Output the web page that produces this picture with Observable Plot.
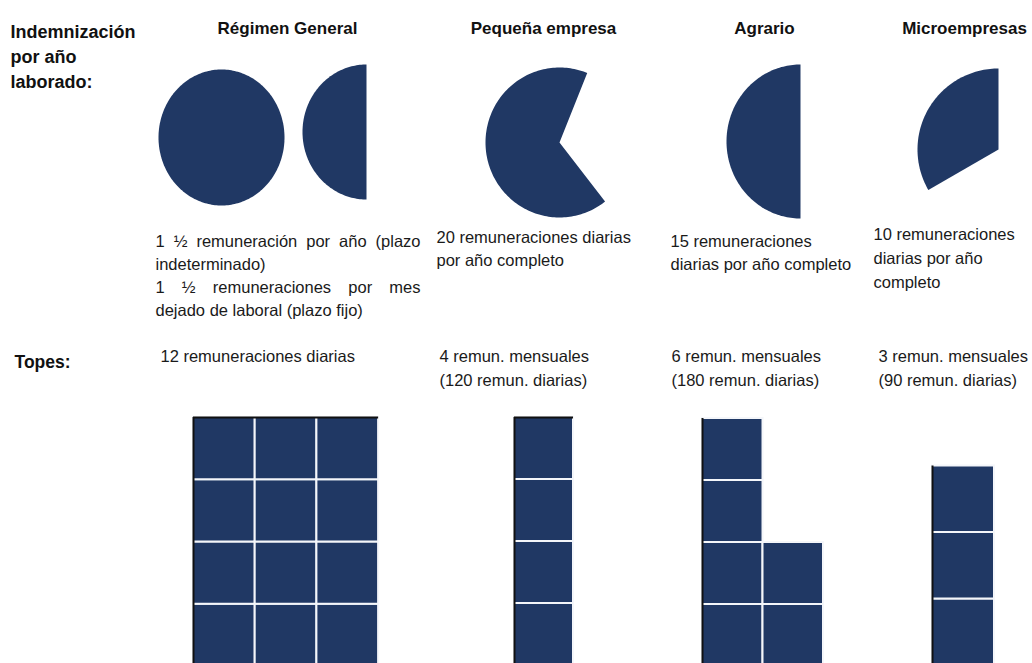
<!DOCTYPE html>
<html><head><meta charset="utf-8">
<script src="https://cdn.jsdelivr.net/npm/d3@7"></script>
<script src="https://cdn.jsdelivr.net/npm/@observablehq/plot@0.6"></script>
<style>
html,body{margin:0;padding:0;background:#fff;}
#chart svg{display:block;}
</style></head><body><div id="chart"></div>
<script>
// ---------------- DATA ----------------
const categories = ["Régimen General", "Pequeña empresa", "Agrario", "Microempresas"];
const diasPorAnio = [45, 20, 15, 10];          // remuneraciones diarias por año laborado
const diasPorRemuneracion = 30;                 // one full pie = one monthly remuneration
const topesMensuales = [12, 4, 6, 3];           // caps, in monthly remunerations (one square each)
const rowLabels = ["Indemnización", "por año", "laborado:"];
const topesLabel = "Topes:";
const descripciones = [
  ["1 ½ remuneración por año (plazo", "indeterminado)", "1 ½ remuneraciones por mes", "dejado de laboral (plazo fijo)"],
  ["20 remuneraciones diarias", "por año completo"],
  ["15 remuneraciones", "diarias por año completo"],
  ["10 remuneraciones", "diarias por año", "completo"]
];
const topesTexto = [
  ["12 remuneraciones diarias"],
  ["4 remun. mensuales", "(120 remun. diarias)"],
  ["6 remun. mensuales", "(180 remun. diarias)"],
  ["3 remun. mensuales", "(90 remun. diarias)"]
];
const justified = ["1 ½ remuneración por año (plazo", "1 ½ remuneraciones por mes"];

// ---------------- LAYOUT ----------------
const W = 1032, H = 663;
const NAVY = "#203864";
const FONT = "'Liberation Sans', Arial, Helvetica, sans-serif";
const titleX = [287, 543, 764, 964], titleY = 33;
const pieLayout = [
  [{cx: 221, cy: 137, rx: 63, ry: 68, rot: 0}, {cx: 366, cy: 131.5, rx: 64, ry: 67.5, rot: 0}],
  [{cx: 559, cy: 142, rx: 74, ry: 75, rot: 22}],
  [{cx: 800, cy: 141, rx: 74, ry: 77, rot: 0}],
  [{cx: 998, cy: 149, rx: 81, ry: 81, rot: 0}]
];
const descX = [155, 436, 670, 873];
const descY0 = [246, 242, 246, 239];
const descLH = [23.3, 23, 23, 24];
const justifyRight = 420;
const topesX = [160, 439, 671, 878], topesY0 = 361, topesLH = 24;
const blockX = [193, 514, 702, 932];
const cellW = [61.7, 59, 60.5, 62];
const cellH = [62.25, 62, 62, 66.5];
const baseY = [666, 665, 666, 665];
const rowsPerCol = 4;
const topLine = [true, true, false, false];

// ---------------- DERIVED ----------------
const piePts = [];
categories.forEach((c, i) => {
  let rest = diasPorAnio[i], k = 0;
  while (rest > 0) {
    const v = Math.min(rest, diasPorRemuneracion); rest -= v;
    const L = pieLayout[i][k];
    const span = 360 * v / diasPorRemuneracion;
    const a0 = span >= 360 ? 0 : 360 - span + L.rot;
    const id = c + "-" + k;
    if (span < 360) piePts.push({id, x: L.cx, y: L.cy});
    const n = Math.ceil(span / 1.5);
    for (let j = 0; j <= n; j++) {
      const a = (a0 + span * j / n) * Math.PI / 180;
      piePts.push({id, x: L.cx + L.rx * Math.sin(a), y: L.cy - L.ry * Math.cos(a)});
    }
    k++;
  }
});

const cells = [], lefts = [], tops = [];
categories.forEach((c, i) => {
  const n = topesMensuales[i];
  for (let m = 0; m < n; m++) {
    const col = Math.floor(m / rowsPerCol), row = m % rowsPerCol;
    cells.push({
      x1: blockX[i] + col * cellW[i], x2: blockX[i] + (col + 1) * cellW[i],
      y1: baseY[i] - (row + 1) * cellH[i], y2: baseY[i] - row * cellH[i]
    });
  }
  const maxRows = Math.min(n, rowsPerCol);
  const topY = baseY[i] - maxRows * cellH[i];
  lefts.push({x: blockX[i], y1: topY, y2: H});
  if (topLine[i]) tops.push({y: topY, x1: blockX[i], x2: blockX[i] + Math.ceil(n / rowsPerCol) * cellW[i]});
});

const titles = categories.map((c, i) => ({t: c, x: titleX[i], y: titleY}));
const descs = descripciones.flatMap((lines, i) => lines.map((t, j) => ({t, x: descX[i], y: descY0[i] + j * descLH[i]})));
const topes = topesTexto.flatMap((lines, i) => lines.map((t, j) => ({t, x: topesX[i], y: topesY0 + j * topesLH})));
const rowLab = rowLabels.map((t, j) => ({t, x: 10, y: 37 + j * 25}));

const chart = Plot.plot({
  width: W, height: H, margin: 0,
  x: {domain: [0, W], range: [0, W], axis: null},
  y: {domain: [0, H], range: [0, H], axis: null},
  style: {background: "#fff", fontFamily: FONT},
  marks: [
    Plot.line(piePts, {x: "x", y: "y", z: "id", fill: NAVY, stroke: "none"}),
    Plot.rect(cells, {x1: "x1", x2: "x2", y1: "y1", y2: "y2", fill: NAVY, stroke: "#f4f6fa", strokeWidth: 2}),
    Plot.ruleX(lefts, {x: "x", y1: "y1", y2: "y2", stroke: "#111", strokeWidth: 2}),
    Plot.ruleY(tops, {y: "y", x1: "x1", x2: "x2", stroke: "#111", strokeWidth: 2}),
    Plot.text(rowLab, {x: "x", y: "y", text: "t", textAnchor: "start", lineAnchor: "bottom", fontSize: 18, fontWeight: "bold", fill: "#111"}),
    Plot.text([{t: topesLabel, x: 14, y: 367}], {x: "x", y: "y", text: "t", textAnchor: "start", lineAnchor: "bottom", fontSize: 17.5, fontWeight: "bold", fill: "#111"}),
    Plot.text(titles, {x: "x", y: "y", text: "t", textAnchor: "middle", lineAnchor: "bottom", fontSize: 17, fontWeight: "bold", fill: "#111"}),
    Plot.text(descs, {x: "x", y: "y", text: "t", textAnchor: "start", lineAnchor: "bottom", fontSize: 16.5, fill: "#1a1a1a"}),
    Plot.text(topes, {x: "x", y: "y", text: "t", textAnchor: "start", lineAnchor: "bottom", fontSize: 16.5, fill: "#1a1a1a"})
  ]
});
document.getElementById("chart").appendChild(chart);

// justify the two long lines of the Régimen General description
chart.querySelectorAll("text").forEach(el => {
  if (justified.includes(el.textContent)) {
    const len = el.getComputedTextLength();
    const spaces = (el.textContent.match(/ /g) || []).length;
    const target = justifyRight - descX[0];
    if (spaces > 0 && len < target) el.style.wordSpacing = ((target - len) / spaces) + "px";
  }
});
</script>
</body></html>
